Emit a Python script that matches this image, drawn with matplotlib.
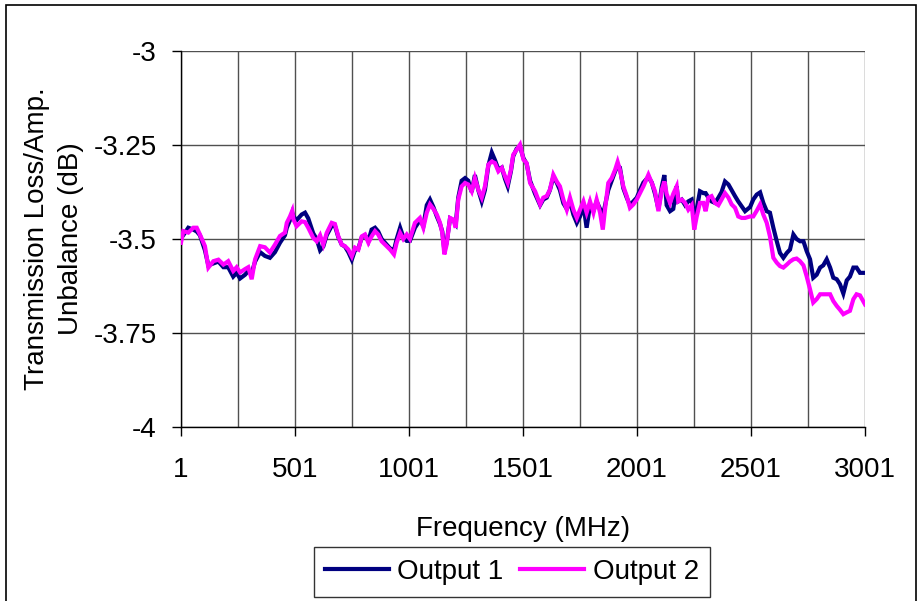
import matplotlib
matplotlib.use("Agg")
import matplotlib.pyplot as plt
from matplotlib.patches import Rectangle
from matplotlib.lines import Line2D

plt.rcParams['font.family'] = ['Liberation Sans', 'DejaVu Sans']

freq = [1, 11, 33, 55, 70, 84, 106, 121, 143, 165, 187, 208, 230, 245, 260, 282, 296, 311, 326, 348,
        369, 391, 413, 435, 457, 465, 479, 489,
        494, 508, 530, 545, 559, 581, 596, 611, 625, 640, 662, 676, 691, 706, 720, 735, 750, 764, 779,
        794, 808, 823, 837, 852, 866, 881, 903, 918, 935, 947, 962, 976, 991, 1005, 1027,
        1049, 1064, 1079, 1093, 1108, 1123, 1137, 1147, 1156, 1166, 1181, 1195, 1206, 1217, 1232, 1247,
        1261, 1276, 1290, 1305, 1320, 1334, 1349, 1364, 1378, 1393, 1408, 1422, 1434, 1448, 1458, 1473,
        1488, 1503, 1517, 1532,
        1554, 1576, 1590, 1605, 1619, 1634, 1649, 1663, 1678, 1693, 1707, 1722, 1737, 1751, 1766, 1780,
        1795, 1810, 1824, 1839, 1851, 1861, 1875, 1890, 1905, 1916, 1926, 1941, 1956, 1970, 1985, 2000,
        2014, 2029,
        2051, 2066, 2080, 2095, 2110, 2121, 2131, 2146, 2160, 2175, 2182, 2197, 2212, 2226, 2241, 2252,
        2263, 2277, 2292, 2302, 2314, 2328, 2343, 2358, 2372, 2387, 2402, 2416, 2431, 2445, 2460, 2475,
        2497,
        2511, 2526, 2541, 2555, 2570, 2584, 2599, 2614, 2628, 2643, 2658, 2672, 2687, 2701, 2716, 2731,
        2745, 2760, 2774, 2789, 2804, 2818, 2833, 2848, 2862, 2877, 2891, 2906, 2921, 2935, 2950, 2964,
        2979, 3001]

output1 = [-3.49, -3.49, -3.47, -3.475, -3.48, -3.49, -3.53, -3.57, -3.565, -3.56, -3.575, -3.575, -3.6, -3.59,
           -3.605, -3.595, -3.585, -3.59, -3.56, -3.535, -3.545, -3.55, -3.535, -3.51, -3.49, -3.47, -3.45, -3.43,
           -3.44, -3.45, -3.435, -3.43, -3.445, -3.485, -3.5, -3.53, -3.52, -3.49, -3.465, -3.465, -3.495, -3.515,
           -3.52, -3.535, -3.555, -3.53, -3.525, -3.495, -3.49, -3.505, -3.475, -3.47, -3.48, -3.5, -3.515, -3.525,
           -3.53, -3.5, -3.47, -3.495, -3.505, -3.505, -3.47,
           -3.45, -3.465, -3.41, -3.395, -3.415, -3.44, -3.46, -3.48, -3.53, -3.51, -3.445, -3.45, -3.46, -3.39,
           -3.345, -3.338, -3.345, -3.375, -3.33, -3.37, -3.4, -3.37, -3.305, -3.27, -3.29, -3.315, -3.31, -3.34,
           -3.36, -3.32, -3.28, -3.26, -3.255, -3.285, -3.3, -3.345,
           -3.38, -3.41, -3.395, -3.39, -3.37, -3.335, -3.35, -3.37, -3.405, -3.42, -3.4, -3.435, -3.457, -3.44,
           -3.41, -3.47, -3.41, -3.425, -3.4, -3.42, -3.44, -3.41, -3.37, -3.345, -3.32, -3.305, -3.31, -3.365,
           -3.39, -3.41, -3.4, -3.39, -3.37, -3.35,
           -3.335, -3.35, -3.38, -3.42, -3.36, -3.33, -3.41, -3.426, -3.42, -3.36, -3.4, -3.395, -3.41, -3.4,
           -3.395, -3.44, -3.42, -3.373, -3.378, -3.378, -3.39, -3.4, -3.404, -3.39, -3.375, -3.347, -3.355, -3.37,
           -3.386, -3.4, -3.413, -3.426, -3.415,
           -3.395, -3.382, -3.376, -3.404, -3.426, -3.43, -3.47, -3.506, -3.537, -3.55, -3.537, -3.528, -3.488,
           -3.5, -3.506, -3.506, -3.532, -3.554, -3.603, -3.595, -3.576, -3.57, -3.554, -3.576, -3.603, -3.607,
           -3.62, -3.645, -3.61, -3.6, -3.576, -3.576, -3.59, -3.59]

output2 = [-3.51, -3.479, -3.483, -3.47, -3.47, -3.488, -3.519, -3.576, -3.559, -3.555, -3.568, -3.559, -3.585,
           -3.575, -3.589, -3.58, -3.575, -3.607, -3.554, -3.519, -3.522, -3.536, -3.515, -3.492, -3.483, -3.457,
           -3.44, -3.425,
           -3.448, -3.466, -3.453, -3.455, -3.47, -3.497, -3.506, -3.49, -3.515, -3.484, -3.457, -3.46, -3.493,
           -3.515, -3.519, -3.528, -3.546, -3.523, -3.528, -3.493, -3.488, -3.51, -3.493, -3.479, -3.488, -3.506,
           -3.519, -3.528, -3.541, -3.51, -3.484, -3.5, -3.488, -3.5, -3.457,
           -3.444, -3.47, -3.43, -3.408, -3.42, -3.435, -3.457, -3.484, -3.541, -3.515, -3.444, -3.448, -3.47,
           -3.395, -3.36, -3.351, -3.355, -3.373, -3.338, -3.369, -3.39, -3.36, -3.302, -3.294, -3.298, -3.32,
           -3.311, -3.333, -3.351, -3.316, -3.276, -3.263, -3.249, -3.289, -3.298, -3.351,
           -3.373, -3.408, -3.39, -3.386, -3.369, -3.329, -3.347, -3.36, -3.395, -3.422, -3.39, -3.422, -3.444,
           -3.422, -3.4, -3.43, -3.4, -3.43, -3.395, -3.43, -3.475, -3.42, -3.351, -3.338, -3.316, -3.295, -3.316,
           -3.36, -3.386, -3.417, -3.408, -3.395, -3.378, -3.36,
           -3.329, -3.351, -3.373, -3.426, -3.369, -3.347, -3.38, -3.404, -3.38, -3.36, -3.4, -3.395, -3.404,
           -3.422, -3.41, -3.475, -3.44, -3.404, -3.404, -3.426, -3.39, -3.386, -3.404, -3.41, -3.395, -3.378,
           -3.39, -3.408, -3.417, -3.44, -3.444, -3.444, -3.44,
           -3.44, -3.425, -3.408, -3.435, -3.457, -3.493, -3.55, -3.563, -3.572, -3.576, -3.568, -3.56, -3.554,
           -3.552, -3.559, -3.57, -3.599, -3.634, -3.669, -3.66, -3.647, -3.647, -3.647, -3.647, -3.665, -3.678,
           -3.688, -3.7, -3.695, -3.691, -3.66, -3.647, -3.65, -3.674]

series_names = ["Output 1", "Output 2"]
x_ticks = [1, 501, 1001, 1501, 2001, 2501, 3001]
x_minor = [251, 751, 1251, 1751, 2251, 2751]
y_ticks = [-4, -3.75, -3.5, -3.25, -3]
y_ticklabels = ["-4", "-3.75", "-3.5", "-3.25", "-3"]

W, H = 922, 601
fig = plt.figure(figsize=(W / 100, H / 100), dpi=100)
ax = fig.add_axes([181 / W, 1 - 427 / H, (865 - 181) / W, (427 - 51) / H])

ax.plot(freq, output1, color='#000080', lw=3.0, solid_joinstyle='miter', label=series_names[0], zorder=3)
ax.plot(freq, output2, color='#FF00FF', lw=3.0, solid_joinstyle='miter', label=series_names[1], zorder=4)

ax.set_xlim(1, 3001)
ax.set_ylim(-4, -3)
ax.set_xticks(x_ticks)
ax.set_xticklabels([str(t) for t in x_ticks])
ax.set_xticks(x_minor, minor=True)
ax.set_yticks(y_ticks)
ax.set_yticklabels(y_ticklabels)

ax.grid(True, which='both', color='#505050', lw=1.0)
ax.set_axisbelow(True)
for s in ['top', 'right']:
    ax.spines[s].set_visible(False)
for s in ['left', 'bottom']:
    ax.spines[s].set_color('black')
    ax.spines[s].set_linewidth(1.0)

ax.tick_params(axis='both', which='major', direction='out', length=6.5, width=1.0,
               labelsize=20, color='black')
ax.tick_params(axis='y', pad=11)
ax.tick_params(axis='x', pad=15)
ax.tick_params(axis='x', which='minor', length=0)

ax.set_xlabel("Frequency (MHz)", fontsize=20, labelpad=24)
ax.set_ylabel("Transmission Loss/Amp.\nUnbalance (dB)", fontsize=20, labelpad=7, linespacing=1.38)

handles = [Line2D([], [], color='#000080', lw=3.0), Line2D([], [], color='#FF00FF', lw=3.0)]
leg = fig.legend(handles, series_names, loc='center', bbox_to_anchor=(512 / W, 1 - 572 / H),
                 bbox_transform=fig.transFigure, ncol=2, fontsize=20, frameon=True, fancybox=False,
                 handlelength=2.3, handletextpad=0.3, columnspacing=0.6, borderpad=0.42,
                 borderaxespad=0.0)
leg.get_frame().set_edgecolor('black')
leg.get_frame().set_linewidth(1.0)

fig.patches.append(Rectangle((6 / W, -0.05), (916 - 6) / W, 1 - 5 / H + 0.05, transform=fig.transFigure,
                             fill=False, edgecolor='black', lw=1.2))

fig.savefig("out.png", dpi=100)
